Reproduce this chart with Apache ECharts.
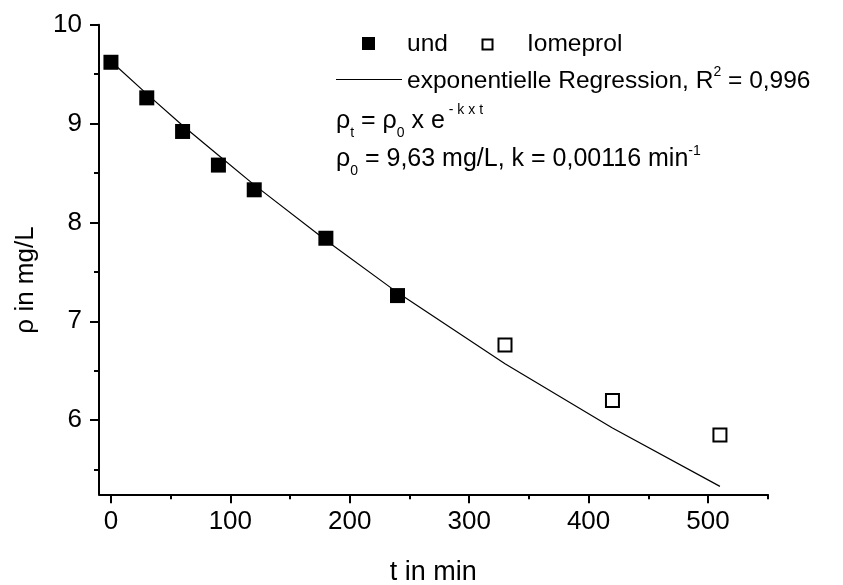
<!DOCTYPE html>
<html>
<head>
<meta charset="utf-8">
<script src="https://cdn.jsdelivr.net/npm/echarts@6/dist/echarts.min.js"></script>
<style>
  html, body { margin: 0; padding: 0; background: #fff; }
  #chart { width: 843px; height: 585px; }
</style>
</head>
<body>
<div id="chart"></div>
<script>
// Measured concentrations (mg/L) over time (min)
const tUnd = [0, 30, 60, 90, 120, 180, 240];
const rhoUnd = [9.62, 9.26, 8.92, 8.58, 8.33, 7.84, 7.26];

const tIomeprol = [330, 420, 510];
const rhoIomeprol = [6.76, 6.20, 5.85];

// Exponential regression curve evaluated at the sampling times
const tFit = [0, 30, 60, 90, 120, 180, 240, 330, 420, 510];
const rhoFit = [9.63, 9.30, 8.98, 8.68, 8.38, 7.82, 7.29, 6.57, 5.92, 5.33];

// Axis ticks and labels
const xMajor = [0, 100, 200, 300, 400, 500];
const xMinor = [50, 150, 250, 350, 450, 550];
const yMajor = [6, 7, 8, 9, 10];
const yMinor = [5.5, 6.5, 7.5, 8.5, 9.5];

const FONT = '"Liberation Sans", Arial, Helvetica, sans-serif';
const ctx = document.createElement('canvas').getContext('2d');
function textWidth(t, size) {
  ctx.font = size + 'px ' + FONT;
  return ctx.measureText(t).width;
}

// Lays out a line of text made of pieces with their own size and vertical shift
function textRow(x, y, pieces) {
  let cx = x;
  return pieces.map(p => {
    const el = {
      type: 'text',
      x: cx,
      y: y + (p.dy || 0),
      style: {
        text: p.text,
        fontSize: p.size,
        fontFamily: FONT,
        fill: '#000',
        align: 'left',
        verticalAlign: 'middle'
      }
    };
    cx += textWidth(p.text, p.size);
    return el;
  });
}

const LS = 24.5; // legend entry text size
const ES = 25;   // equation text size
const SUB = 14;  // sub/superscript size

const legendGraphics = [
  { type: 'rect', shape: { x: 362, y: 37, width: 13, height: 13 }, style: { fill: '#000' } },
  { type: 'text', x: 407, y: 44, style: { text: 'und', fontSize: LS, fontFamily: FONT, fill: '#000', verticalAlign: 'middle' } },
  { type: 'rect', shape: { x: 482.5, y: 39.5, width: 10, height: 10 }, style: { fill: '#fff', stroke: '#000', lineWidth: 2 } },
  { type: 'text', x: 527, y: 44, style: { text: 'Iomeprol', fontSize: LS, fontFamily: FONT, fill: '#000', verticalAlign: 'middle' } },
  { type: 'line', shape: { x1: 336, y1: 79.5, x2: 402, y2: 79.5 }, style: { stroke: '#000', lineWidth: 1.2 } },
  ...textRow(407, 81.5, [
    { text: 'exponentielle Regression, R', size: LS },
    { text: '2', size: SUB, dy: -9 },
    { text: ' = 0,996', size: LS }
  ]),
  ...textRow(336, 121, [
    { text: 'ρ', size: ES },
    { text: 't', size: SUB, dy: 12 },
    { text: ' = ρ', size: ES },
    { text: '0', size: SUB, dy: 12 },
    { text: ' x e', size: ES },
    { text: ' - k x t', size: 14, dy: -11 }
  ]),
  ...textRow(336, 159, [
    { text: 'ρ', size: ES },
    { text: '0', size: SUB, dy: 12 },
    { text: ' = 9,63 mg/L, k = 0,00116 min', size: ES },
    { text: '-1', size: SUB, dy: -8 }
  ]),
  {
    type: 'text', x: 26, y: 280, rotation: Math.PI / 2,
    style: { text: 'ρ in mg/L', fontSize: 26, fontFamily: FONT, fill: '#000', align: 'center', verticalAlign: 'middle' }
  }
];

const axisLineStyle = { color: '#000', width: 2 };

const chart = echarts.init(document.getElementById('chart'), null, { renderer: 'canvas' });
chart.setOption({
  animation: false,
  backgroundColor: '#fff',
  grid: { left: 99, right: 75.3, top: 24.7, bottom: 90.7, containLabel: false, outerBoundsMode: 'none' },
  xAxis: [
    {
      type: 'value', min: -10, max: 550, position: 'bottom',
      name: 't in min', nameLocation: 'middle', nameGap: 65,
      nameTextStyle: { fontSize: 27, fontFamily: FONT, color: '#000' },
      axisLine: { show: true, onZero: false, lineStyle: axisLineStyle },
      axisTick: { show: true, inside: false, length: 9, customValues: xMajor, lineStyle: { color: '#000', width: 2 } },
      axisLabel: { show: true, customValues: xMajor, margin: 15, fontSize: 26, fontFamily: FONT, color: '#000' },
      splitLine: { show: false }
    },
    {
      type: 'value', min: -10, max: 550, position: 'bottom', offset: 0,
      axisLine: { show: false, onZero: false },
      axisTick: { show: true, inside: false, length: 5, customValues: xMinor, lineStyle: { color: '#000', width: 2 } },
      axisLabel: { show: false },
      splitLine: { show: false }
    }
  ],
  yAxis: [
    {
      type: 'value', min: 5.25, max: 10, position: 'left',
      axisLine: { show: true, onZero: false, lineStyle: axisLineStyle },
      axisTick: { show: true, inside: false, length: 9, customValues: yMajor, lineStyle: { color: '#000', width: 2 } },
      axisLabel: { show: true, customValues: yMajor, margin: 17, fontSize: 26, fontFamily: FONT, color: '#000' },
      splitLine: { show: false }
    },
    {
      type: 'value', min: 5.25, max: 10, position: 'left', offset: 0,
      axisLine: { show: false, onZero: false },
      axisTick: { show: true, inside: false, length: 5, customValues: yMinor, lineStyle: { color: '#000', width: 2 } },
      axisLabel: { show: false },
      splitLine: { show: false }
    }
  ],
  series: [
    {
      name: 'exponentielle Regression',
      type: 'line',
      data: tFit.map((t, i) => [t, rhoFit[i]]),
      showSymbol: false,
      symbol: 'none',
      lineStyle: { color: '#000', width: 1.2 },
      z: 2
    },
    {
      name: 'und',
      type: 'scatter',
      data: tUnd.map((t, i) => [t, rhoUnd[i]]),
      symbol: 'rect',
      symbolSize: 15,
      itemStyle: { color: '#000', opacity: 1 },
      z: 3
    },
    {
      name: 'Iomeprol',
      type: 'scatter',
      data: tIomeprol.map((t, i) => [t, rhoIomeprol[i]]),
      symbol: 'rect',
      symbolSize: 13,
      itemStyle: { color: '#fff', borderColor: '#000', borderWidth: 2, opacity: 1 },
      z: 3
    }
  ],
  graphic: legendGraphics
});
</script>
</body>
</html>
